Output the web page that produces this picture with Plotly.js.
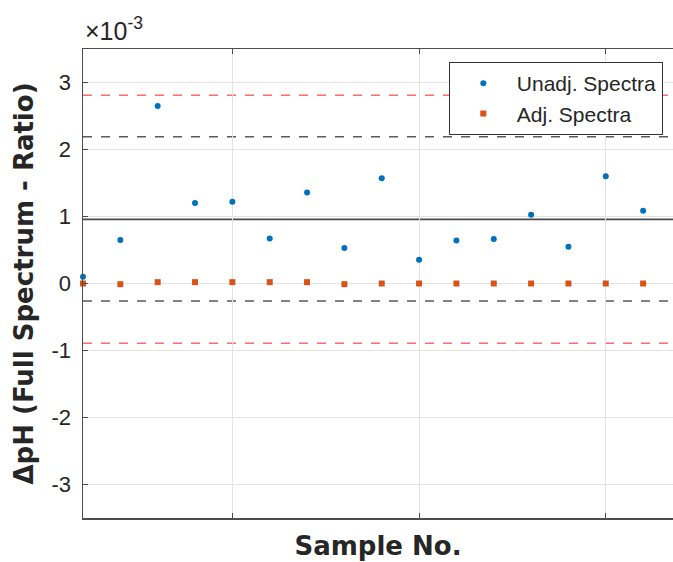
<!DOCTYPE html>
<html>
<head>
<meta charset="utf-8">
<script src="https://cdn.plot.ly/plotly-3.0.1.min.js"></script>
<style>html,body{margin:0;padding:0;background:#fff;}#chart{width:673px;height:562px;}</style>
</head>
<body>
<div id="chart"></div>
<script>
// Values in units of 1e-3 pH
const samples = [1,2,3,4,5,6,7,8,9,10,11,12,13,14,15,16];
const unadjSpectra = [0.10,0.65,2.65,1.20,1.22,0.67,1.36,0.53,1.57,0.355,0.64,0.665,1.025,0.55,1.60,1.085];
const adjSpectra = [0.00,-0.01,0.02,0.02,0.02,0.02,0.02,-0.01,0.00,0.00,0.00,0.00,0.00,0.00,0.00,0.00];
const meanLine = [0.957];
const innerLimits = [2.19,-0.26];
const outerLimits = [2.81,-0.89];
const yTicks = [-3,-2,-1,0,1,2,3];
const xTicks = [5,10,15];

const FONT = 'Liberation Sans, Arial, Helvetica, sans-serif';
const TFONT = 'DejaVu Sans, Liberation Sans, Arial, sans-serif';

const traces = [
  {x: samples, y: unadjSpectra, type: 'scatter', mode: 'markers', name: 'Unadj. Spectra',
   marker: {color: '#0072BD', size: 6, symbol: 'circle'}, cliponaxis: false},
  {x: samples, y: adjSpectra, type: 'scatter', mode: 'markers', name: 'Adj. Spectra',
   marker: {color: '#D95319', size: 6, symbol: 'square'}, cliponaxis: false}
];

const shapes = [];
outerLimits.forEach(v => shapes.push({type:'line', xref:'paper', x0:0, x1:1, yref:'y', y0:v, y1:v,
  line:{color:'#FF6B6B', width:1.5, dash:'dash'}, layer:'below'}));
innerLimits.forEach(v => shapes.push({type:'line', xref:'paper', x0:0, x1:1, yref:'y', y0:v, y1:v,
  line:{color:'#5a5a5a', width:1.5, dash:'dash'}, layer:'below'}));
meanLine.forEach(v => shapes.push({type:'line', xref:'paper', x0:0, x1:1, yref:'y', y0:v, y1:v,
  line:{color:'#4a4a4a', width:1.8}, layer:'below'}));

const layout = {
  width: 673, height: 562,
  margin: {l: 83, r: 0, t: 49, b: 44, pad: 0},
  paper_bgcolor: '#fff', plot_bgcolor: '#fff',
  showlegend: true,
  font: {family: FONT, color: '#262626'},
  xaxis: {
    range: [1, 16.8], tickvals: xTicks, showticklabels: false,
    showgrid: true, gridcolor: '#e3e3e3', gridwidth: 1, zeroline: false,
    showline: true, linecolor: '#4d4d4d', linewidth: 1.5, mirror: 'ticks',
    ticks: 'inside', ticklen: 5, tickcolor: '#4d4d4d',
    title: {text: '<b>Sample No.</b>', font: {family: TFONT, size: 26, color: '#262626'}, standoff: 18}
  },
  yaxis: {
    range: [-3.5, 3.5], tickvals: yTicks, ticktext: yTicks.map(String),
    showgrid: true, gridcolor: '#e3e3e3', gridwidth: 1, zeroline: false,
    showline: true, linecolor: '#4d4d4d', linewidth: 1.5,
    ticks: 'inside', ticklen: 5, tickcolor: '#4d4d4d',
    tickfont: {family: FONT, size: 22, color: '#262626'}, ticklabelstandoff: 6,
    title: {text: '<b>ΔpH (Full Spectrum - Ratio)</b>', font: {family: TFONT, size: 26, color: '#262626'}, standoff: 10}
  },
  legend: {
    x: 0.62, y: 0.972, xanchor: 'left', yanchor: 'top',
    bgcolor: '#fff', bordercolor: '#333', borderwidth: 1,
    font: {family: FONT, size: 21, color: '#262626'},
    itemwidth: 57, tracegroupgap: 0
  },
  shapes: shapes,
  annotations: [{
    xref: 'paper', yref: 'paper', x: 0, y: 1, xanchor: 'left', yanchor: 'bottom', yshift: 2,
    text: '×10<sup>-3</sup>', showarrow: false, font: {family: FONT, size: 25, color: '#262626'}
  }]
};

Plotly.newPlot('chart', traces, layout, {displayModeBar: false, staticPlot: true});
</script>
</body>
</html>
